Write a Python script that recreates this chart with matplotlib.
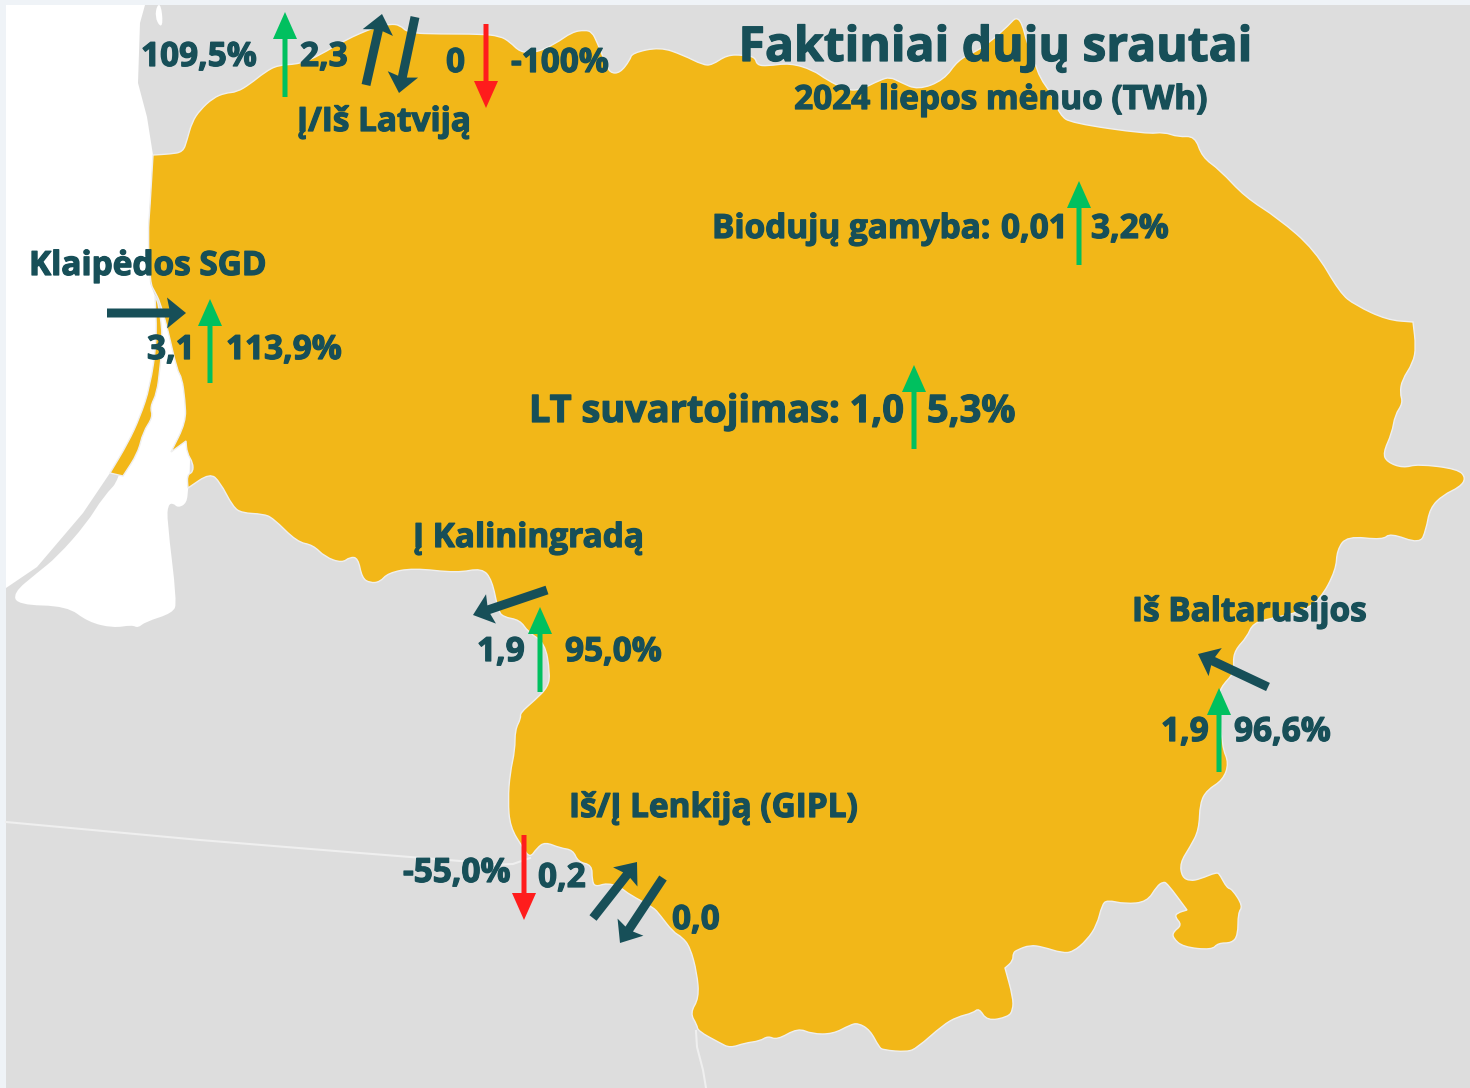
import matplotlib
matplotlib.use("Agg")
from matplotlib import pyplot as plt
from matplotlib.patches import Polygon, Rectangle, FancyArrow, PathPatch
from matplotlib.path import Path
import matplotlib.patheffects as pe

# map shapes in pixels (a repeated point keeps a sharp corner)
lithuania = [(153,155),(153,155),(170,154),(183,152),(187,140),(192,122),(200,110),(213,98),(225,93),(237,92),(250,84),(265,72),
    (278,65),(300,64),(320,55),(345,40),(375,27),(390,24),(400,25),(408,33),(440,34),(480,34),(500,36),(510,42),(520,52),
    (535,53),(555,44),(572,32),(585,30),(592,32),(597,42),(605,62),(610,73),(620,73),(630,60),(632,53),(660,47),(683,55),
    (703,65),(712,65),(727,55),(743,55),(755,57),(757,65),(767,66),(790,63),(813,70),(827,80),(847,90),(860,90),(880,80),
    (890,77),(900,82),(918,90),(944,80),(958,60),(975,52),(990,42),(1009,25),(1016,17),(1022,23),(1027,43),(1035,63),
    (1040,78),(1051,93),(1060,115),(1071,123),(1147,134),(1164,132),(1178,137),(1195,136),(1202,157),(1220,170),(1245,197),
    (1278,218),(1315,250),(1340,293),(1355,305),(1387,320),(1413,322),(1413,322),(1416,347),(1413,363),(1402,380),(1400,393),(1403,403),
    (1395,415),(1392,433),(1383,453),(1387,462),(1403,468),(1418,464),(1458,469),(1466,478),(1460,487),(1443,495),(1430,508),
    (1426,530),(1420,544),(1390,533),(1383,540),(1347,536),(1337,550),(1336,570),(1320,600),(1300,612),(1273,618),(1253,623),
    (1247,637),(1235,650),(1233,663),(1235,672),(1220,688),(1219,700),(1222,747),(1229,763),(1223,780),(1207,790),(1200,803),
    (1199,830),(1190,847),(1180,863),(1182,877),(1190,881),(1200,879),(1217,872),(1220,875),(1227,888),(1232,889),(1243,906),
    (1238,913),(1238,935),(1232,943),(1218,943),(1212,950),(1183,947),(1173,938),(1173,932),(1182,925),(1175,917),(1177,913),
    (1187,910),(1187,910),(1167,883),(1163,882),(1157,886),(1147,902),(1125,904),(1107,900),(1102,905),(1097,925),(1087,940),(1073,952),
    (1062,953),(1043,947),(1030,945),(1017,950),(1013,953),(1013,961),(1005,968),(1005,968),(1013,997),(1013,1010),(1008,1017),(987,1021),
    (979,1008),(973,1013),(957,1017),(943,1025),(917,1048),(907,1052),(883,1050),(879,1047),(870,1030),(858,1023),(850,1025),
    (833,1034),(812,1034),(798,1028),(777,1040),(768,1036),(760,1041),(745,1043),(730,1048),(720,1043),(698,1031),(697,1025),
    (690,1013),(699,998),(697,973),(690,947),(682,937),(673,932),(660,915),(653,907),(630,895),(620,887),(607,883),(595,887),
    (592,880),(592,865),(578,862),(573,850),(560,848),(545,842),(537,848),(530,858),(523,848),(510,827),(508,800),(510,773),
    (515,750),(515,730),(521,718),(520,713),(535,700),(548,687),(550,673),(545,643),(528,632),(520,620),(503,617),(498,610),
    (492,580),(482,568),(457,573),(413,568),(388,573),(380,582),(370,583),(362,578),(358,558),(350,557),(342,563),(325,557),
    (313,545),(297,542),(273,518),(263,514),(242,513),(233,507),(220,482),(210,473),(188,488),(188,488),(187,475),(193,472),(193,463),
    (187,453),(186,441),(186,441),(171,452),(171,452),(186,422),(185,400),(182,378),(177,370),(168,330),(160,302),(155,292),(150,283),(148,233),(150,207)]
curonian_spit = [(155,296),(155,296),(157,340),(150,387),(140,417),(128,443),(110,473),(110,473),(123,476),(123,476),(138,453),(143,432),(153,417),(150,407),
    (157,393),(160,367),(163,340),(159,305)]
baltic_sea = [(6,5),(145,5),(140,23),(138,83),(147,117),(153,155),(148,233),(150,283),(155,296),(157,340),(150,387),(140,417),
    (128,443),(110,473),(83,513),(37,567),(6,588)]
lagoon = [(158,298),(175,330),(190,420),(190,480),(188,488),(187,503),(178,508),(173,503),(168,505),(167,520),(177,602),(173,613),
    (145,622),(138,628),(132,625),(113,628),(88,622),(67,606),(18,605),(13,593),(37,573),(57,557),(87,523),(103,497),(123,476)]
inlet = [(157,5),(155,17),(160,27),(163,23),(161,5)]
border_west = [(6,822),(200,840),(360,853),(473,862),(490,865),(513,864),(530,858)]
border_south = [(696,1031),(697,1047),(703,1070),(706,1088)]

# headings
title = "Faktiniai dujų srautai"
subtitle = "2024 liepos mėnuo (TWh)"

# text, left x, baseline y, size
labels = ["Į/Iš Latviją", "Biodujų gamyba:", "Klaipėdos SGD", "LT suvartojimas: 1,0", "Į Kaliningradą", "Iš Baltarusijos", "Iš/Į Lenkiją (GIPL)"]
label_x = [297, 712, 29, 529, 413, 1132, 569]
label_y = [131, 238, 275, 422, 547, 621, 817]
label_size = [24, 24, 24, 27.3, 24, 24, 24]
values = ["109,5%", "2,3", "0", "-100%", "0,01", "3,2%", "3,1", "113,9%", "5,3%", "1,9", "95,0%", "1,9", "96,6%", "-55,0%", "0,2", "0,0"]
value_x = [141, 300, 446, 511, 1001, 1091, 147, 226, 927, 477, 565, 1161, 1234, 403, 538, 672]
value_y = [66, 66, 72, 72, 238, 238, 359, 359, 422, 661, 661, 741, 741, 882, 887, 929]
value_size = [24, 24, 24, 24, 24, 24, 24, 24, 27.3, 24, 24, 24, 24, 24, 24, 24]

# change arrows: x, start y, end y
up_x = [285, 1079, 210, 914, 540, 1219]
up_from = [97, 265, 383, 449, 692, 772]
up_to = [12, 181, 299, 365, 607, 688]
down_x = [486, 524]
down_from = [24, 835]
down_to = [108, 920]
# flow arrows: start and tip
flows = [(366,85,382,14), (415,17,399,93), (107,313,186,313), (547,590,473,615), (1268,687,1198,654), (593,918,637,862), (663,878,620,943)]

ORANGE = "#f2b718"
GRAY = "#dddddd"
DARK = "#174f58"
GREEN = "#00c05f"
RED = "#ff1c1c"
EDGE = "#efefef"

plt.rcParams["font.family"] = ["Open Sans", "DejaVu Sans"]
plt.rcParams["font.weight"] = "bold"

fig = plt.figure(figsize=(14.7, 10.88), dpi=100, facecolor="#eff3f7")
ax = fig.add_axes([0, 0, 1, 1])
ax.set_xlim(0, 1470)
ax.set_ylim(1088, 0)
ax.axis("off")


def smooth(points):
    # points are the control points of a quadratic curve through their midpoints
    n = len(points)
    mid = lambda a, b: ((a[0] + b[0]) / 2, (a[1] + b[1]) / 2)
    verts = [mid(points[-1], points[0])]
    codes = [Path.MOVETO]
    for i in range(n):
        verts += [points[i], mid(points[i], points[(i + 1) % n])]
        codes += [Path.CURVE3, Path.CURVE3]
    verts.append(verts[0])
    codes.append(Path.CLOSEPOLY)
    return Path(verts, codes)


ax.add_patch(Rectangle((6, 5), 1464, 1083, fc=GRAY, ec="none"))
ax.add_patch(Polygon(baltic_sea, closed=True, fc="white", ec="none"))
ax.add_patch(PathPatch(smooth(lagoon), fc="white", ec="none"))
ax.add_patch(PathPatch(smooth(inlet), fc="white", ec="none"))
for line in (border_west, border_south):
    ax.plot([p[0] for p in line], [p[1] for p in line], color=EDGE, lw=1.5)
for shape in (lithuania, curonian_spit):
    ax.add_patch(PathPatch(smooth(shape), fc=ORANGE, ec=EDGE, lw=1.0))

heavy = [pe.withStroke(linewidth=0.9, foreground=DARK)]
for s, x, y, size in zip(labels, label_x, label_y, label_size):
    ax.text(x, y, s, color=DARK, fontsize=size, ha="left", va="baseline", path_effects=heavy)
for s, x, y, size in zip(values, value_x, value_y, value_size):
    ax.text(x, y, s, color=DARK, fontsize=size, ha="left", va="baseline", path_effects=heavy)
ax.text(995, 61, title, color=DARK, fontsize=34.6, ha="center", va="baseline", path_effects=heavy)
ax.text(1001, 109, subtitle, color=DARK, fontsize=24, ha="center", va="baseline", path_effects=heavy)


def thin_arrow(x, y0, y1, color):
    ax.add_patch(FancyArrow(x, y0, 0, y1 - y0, width=5, head_width=24, head_length=27,
                            length_includes_head=True, color=color, lw=0, zorder=3))


for x, y0, y1 in zip(up_x, up_from, up_to):
    thin_arrow(x, y0, y1, GREEN)
for x, y0, y1 in zip(down_x, down_from, down_to):
    thin_arrow(x, y0, y1, RED)
for x0, y0, x1, y1 in flows:
    ax.add_patch(FancyArrow(x0, y0, x1 - x0, y1 - y0, width=9, head_width=31, head_length=19, overhang=0.12,
                            length_includes_head=True, color=DARK, lw=0, zorder=3))

fig.savefig("out.png", dpi=100, facecolor=fig.get_facecolor())
